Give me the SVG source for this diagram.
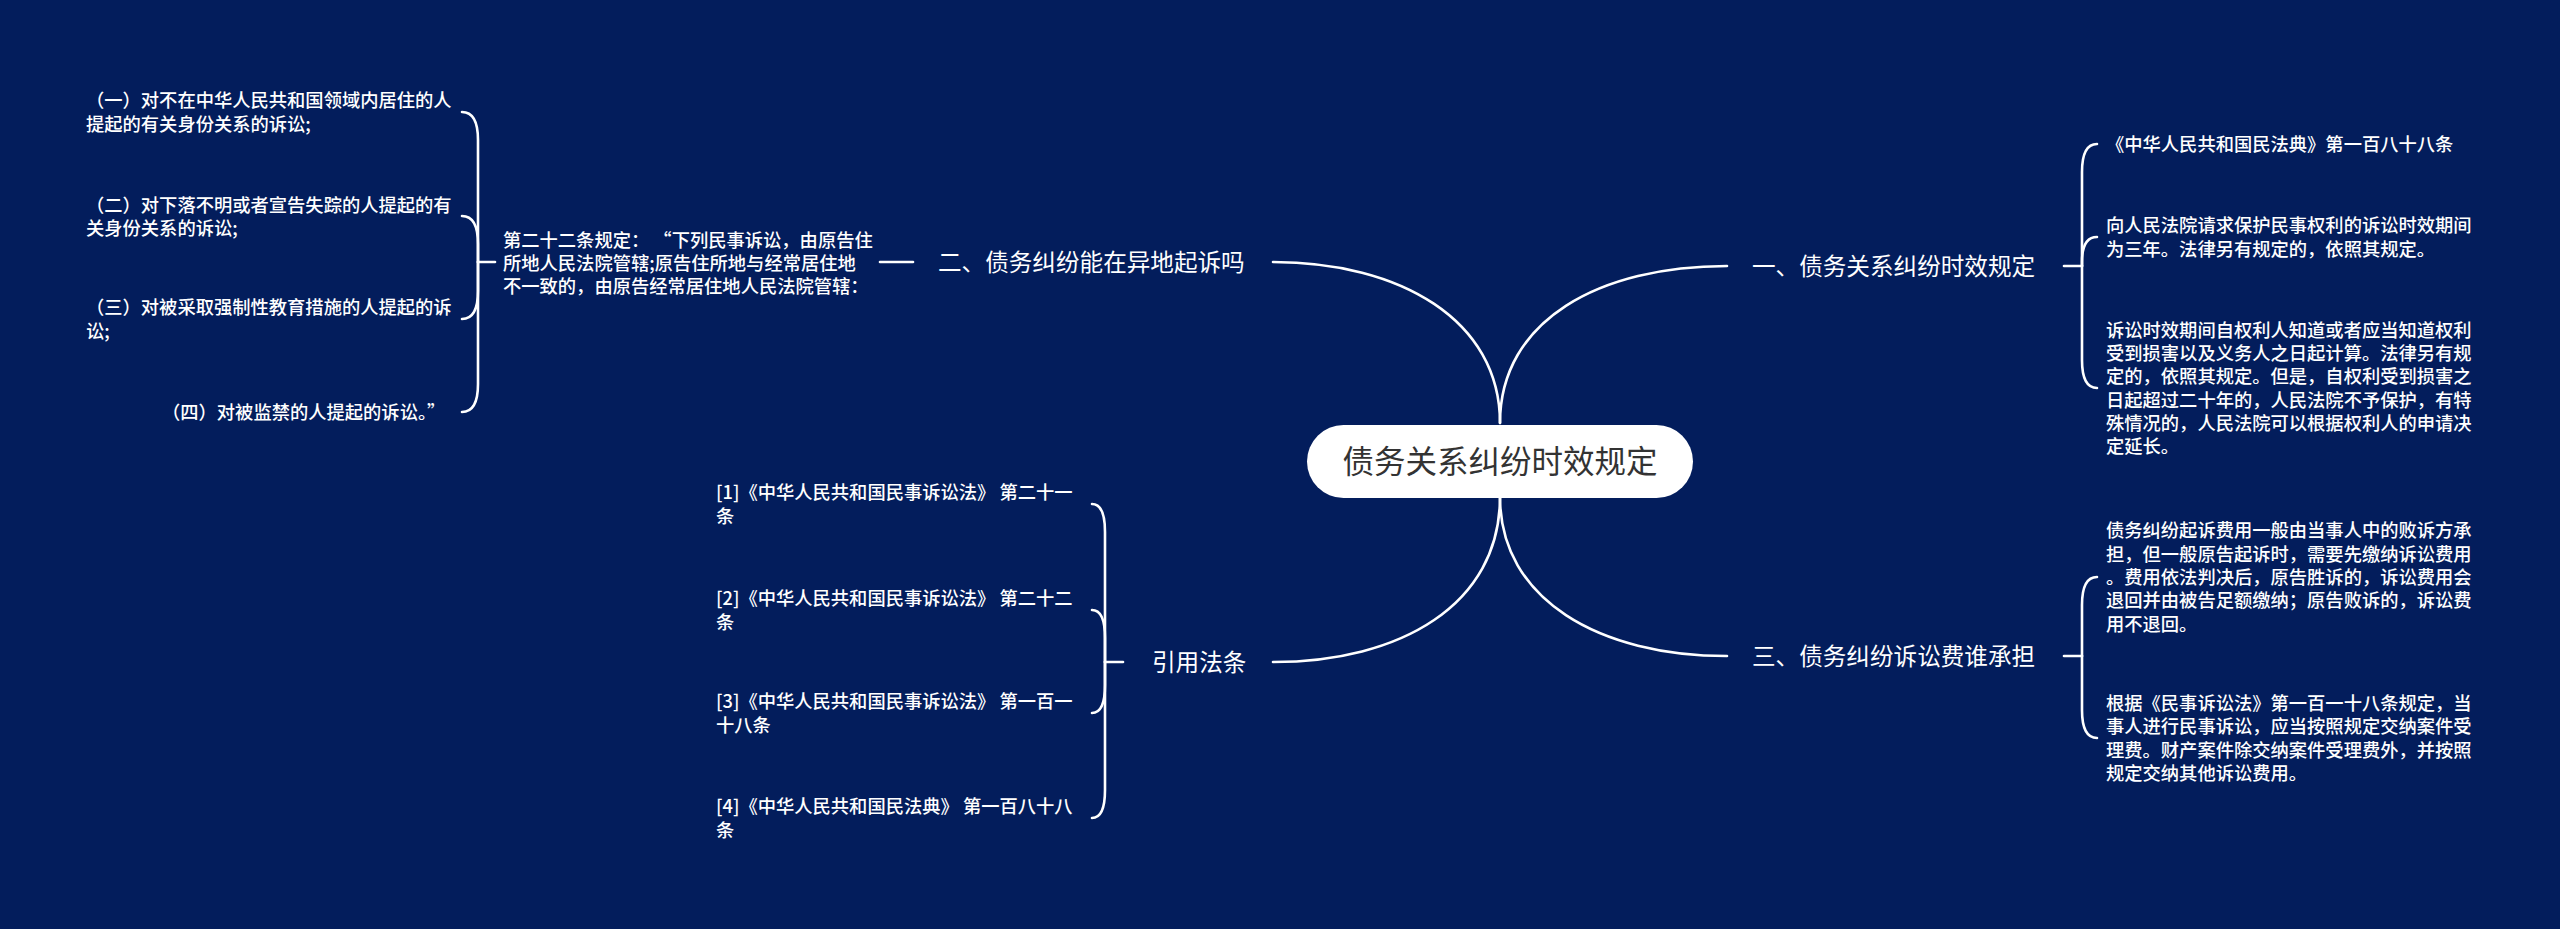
<svg xmlns="http://www.w3.org/2000/svg" width="2560" height="929" viewBox="0 0 2560 929">
<style>
text{font-family:"Noto Sans CJK SC","Noto Sans",sans-serif;fill:#ffffff}
.s{font-size:18.3px;font-weight:500}
.b{font-size:23.6px}
.c{font-size:31.5px;fill:#333333}
.link{fill:none;stroke:#ffffff;stroke-width:2.6;stroke-linecap:round}
</style>
<rect x="0" y="0" width="2560" height="929" fill="#031d5c"/>
<g id="connectors">
<path class="link" d="M1500,423 C1500,320 1400,262 1273,262"/>
<path class="link" d="M1500,423 C1500,320 1600,266 1727,266"/>
<path class="link" d="M1500,497 C1500,605 1400,662 1273,662"/>
<path class="link" d="M1500,497 C1500,600 1600,656 1727,656"/>
<path class="link" d="M2064,266 L2082,266"/>
<path class="link" d="M2082,266 L2082,172 Q2082,144 2097,144"/>
<path class="link" d="M2082,266 L2082,262 Q2082,237 2097,237"/>
<path class="link" d="M2082,266 L2082,360 Q2082,388 2097,388"/>
<path class="link" d="M2064,656 L2082,656"/>
<path class="link" d="M2082,656 L2082,605 Q2082,577 2097,577"/>
<path class="link" d="M2082,656 L2082,710 Q2082,738 2097,738"/>
<path class="link" d="M880,262 L913,262"/>
<path class="link" d="M478,262 L495,262"/>
<path class="link" d="M478,262 L478,140 Q478,112 462,112"/>
<path class="link" d="M478,262 L478,244 Q478,216 462,216"/>
<path class="link" d="M478,262 L478,291 Q478,319 462,319"/>
<path class="link" d="M478,262 L478,384 Q478,412 462,412"/>
<path class="link" d="M1105,662 L1123,662"/>
<path class="link" d="M1105,662 L1105,532 Q1105,504 1092,504"/>
<path class="link" d="M1105,662 L1105,638 Q1105,610 1092,610"/>
<path class="link" d="M1105,662 L1105,685 Q1105,713 1092,713"/>
<path class="link" d="M1105,662 L1105,790 Q1105,818 1092,818"/>
</g>
<g id="root">
<rect x="1307" y="425" width="386" height="73" rx="36.5" fill="#ffffff"/>
<text class="c" x="1500" y="473" text-anchor="middle">债务关系纠纷时效规定</text>
</g>
<g id="branch1"><text class="b" x="1752" y="275">一、债务关系纠纷时效规定</text></g>
<g id="b1c1"><text class="s" x="2106" y="151">《中华人民共和国民法典》第一百八十八条</text></g>
<g id="b1c2"><text class="s" x="2106" y="232.3">向人民法院请求保护民事权利的诉讼时效期间</text><text class="s" x="2106" y="255.6">为三年。法律另有规定的，依照其规定。</text></g>
<g id="b1c3"><text class="s" x="2106" y="336.8">诉讼时效期间自权利人知道或者应当知道权利</text><text class="s" x="2106" y="360.1">受到损害以及义务人之日起计算。法律另有规</text><text class="s" x="2106" y="383.4">定的，依照其规定。但是，自权利受到损害之</text><text class="s" x="2106" y="406.7">日起超过二十年的，人民法院不予保护，有特</text><text class="s" x="2106" y="430">殊情况的，人民法院可以根据权利人的申请决</text><text class="s" x="2106" y="453.3">定延长。</text></g>
<g id="branch2"><text class="b" x="938" y="271">二、债务纠纷能在异地起诉吗</text></g>
<g id="b2c1"><text class="s" x="503" y="246.7">第二十二条规定： “下列民事诉讼，由原告住</text><text class="s" x="503" y="270">所地人民法院管辖;原告住所地与经常居住地</text><text class="s" x="503" y="293.3">不一致的，由原告经常居住地人民法院管辖：</text></g>
<g id="b2c1a"><text class="s" x="86" y="107.3">（一）对不在中华人民共和国领域内居住的人</text><text class="s" x="86" y="130.6">提起的有关身份关系的诉讼;</text></g>
<g id="b2c1b"><text class="s" x="86" y="211.8">（二）对下落不明或者宣告失踪的人提起的有</text><text class="s" x="86" y="235.1">关身份关系的诉讼;</text></g>
<g id="b2c1c"><text class="s" x="86" y="314.3">（三）对被采取强制性教育措施的人提起的诉</text><text class="s" x="86" y="337.6">讼;</text></g>
<g id="b2c1d"><text class="s" x="162" y="419">（四）对被监禁的人提起的诉讼。”</text></g>
<g id="branch3"><text class="b" x="1752" y="665">三、债务纠纷诉讼费谁承担</text></g>
<g id="b3c1"><text class="s" x="2106" y="537.4">债务纠纷起诉费用一般由当事人中的败诉方承</text><text class="s" x="2106" y="560.7">担，但一般原告起诉时，需要先缴纳诉讼费用</text><text class="s" x="2106" y="584">。费用依法判决后，原告胜诉的，诉讼费用会</text><text class="s" x="2106" y="607.3">退回并由被告足额缴纳；原告败诉的，诉讼费</text><text class="s" x="2106" y="630.6">用不退回。</text></g>
<g id="b3c2"><text class="s" x="2106" y="710">根据《民事诉讼法》第一百一十八条规定，当</text><text class="s" x="2106" y="733.3">事人进行民事诉讼，应当按照规定交纳案件受</text><text class="s" x="2106" y="756.6">理费。财产案件除交纳案件受理费外，并按照</text><text class="s" x="2106" y="779.9">规定交纳其他诉讼费用。</text></g>
<g id="branch4"><text class="b" x="1152" y="671">引用法条</text></g>
<g id="b4c1"><text class="s" x="716" y="499.3">[1]《中华人民共和国民事诉讼法》 第二十一</text><text class="s" x="716" y="522.6">条</text></g>
<g id="b4c2"><text class="s" x="716" y="605.3">[2]《中华人民共和国民事诉讼法》 第二十二</text><text class="s" x="716" y="628.6">条</text></g>
<g id="b4c3"><text class="s" x="716" y="708.3">[3]《中华人民共和国民事诉讼法》 第一百一</text><text class="s" x="716" y="731.6">十八条</text></g>
<g id="b4c4"><text class="s" x="716" y="813.3">[4]《中华人民共和国民法典》 第一百八十八</text><text class="s" x="716" y="836.6">条</text></g>
</svg>
